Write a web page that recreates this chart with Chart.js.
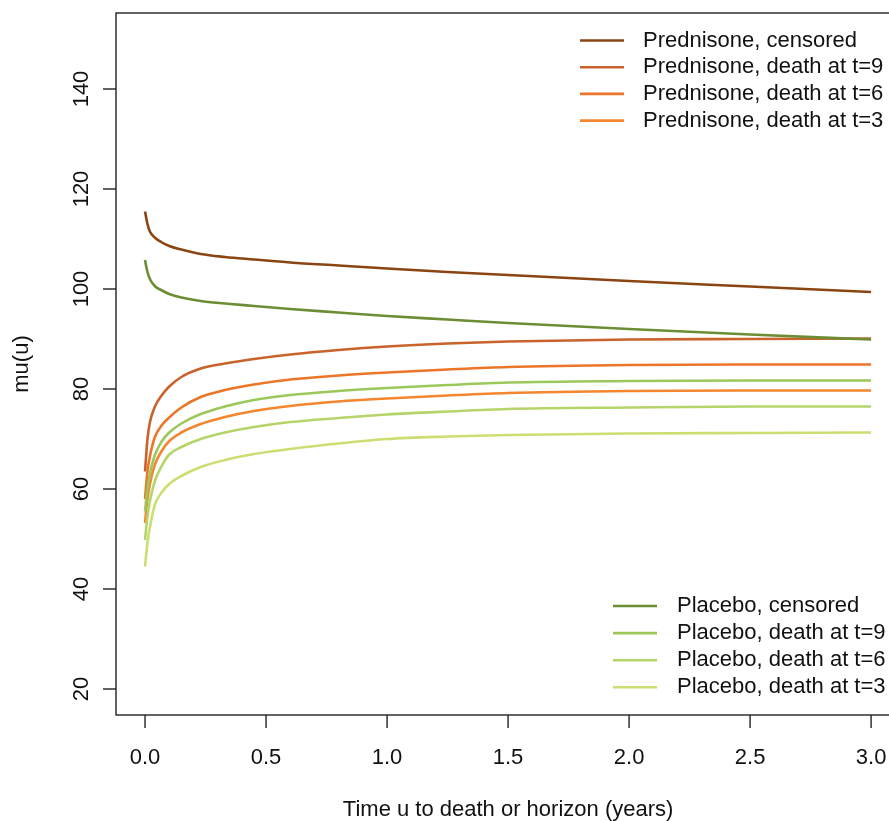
<!DOCTYPE html>
<html>
<head>
<meta charset="utf-8">
<script src="https://cdn.jsdelivr.net/npm/chart.js@4/dist/chart.umd.min.js"></script>
<style>
  html, body { margin: 0; padding: 0; background: #fff; }
  canvas { display: block; }
</style>
</head>
<body>
<canvas id="grafico" width="889" height="821"></canvas>
<script>
// Tiempo u (años) donde se leyeron los valores
const U = [0, 0.005, 0.01, 0.02, 0.04, 0.07, 0.1, 0.15, 0.23, 0.33, 0.45, 0.6, 0.8, 1.0, 1.25, 1.5, 2.0, 2.5, 3.0];

// Prednisone
const PRED_CENS = [115.5, 114.2, 113.0, 111.5, 110.3, 109.3, 108.6, 107.9, 107.0, 106.4, 105.9, 105.3, 104.7, 104.1, 103.4, 102.8, 101.6, 100.5, 99.4];
const PRED_T9 = [63.5, 67.0, 70.0, 73.3, 76.4, 78.8, 80.5, 82.4, 84.1, 85.1, 86.0, 86.9, 87.8, 88.5, 89.1, 89.5, 89.9, 90.0, 90.1];
const PRED_T6 = [58.0, 61.0, 63.5, 66.5, 70.3, 72.8, 74.3, 76.3, 78.4, 79.8, 80.9, 81.9, 82.7, 83.3, 83.9, 84.4, 84.8, 84.9, 84.9];
const PRED_T3 = [53.2, 55.8, 58.0, 61.0, 64.8, 67.7, 69.6, 71.3, 73.0, 74.4, 75.6, 76.6, 77.5, 78.1, 78.7, 79.2, 79.6, 79.7, 79.7];

// Placebo
const PLAC_CENS = [105.8, 104.5, 103.4, 102.0, 100.6, 99.7, 99.0, 98.3, 97.6, 97.1, 96.6, 96.0, 95.3, 94.6, 93.9, 93.2, 92.0, 90.9, 89.9];
const PLAC_T9 = [55.5, 58.0, 60.2, 63.0, 66.7, 69.6, 71.3, 73.1, 75.0, 76.5, 77.8, 78.8, 79.6, 80.2, 80.8, 81.3, 81.6, 81.7, 81.7];
const PLAC_T6 = [49.8, 52.3, 54.5, 57.5, 61.5, 64.7, 66.9, 68.4, 70.0, 71.3, 72.4, 73.4, 74.2, 74.9, 75.5, 76.0, 76.3, 76.5, 76.5];
const PLAC_T3 = [44.5, 47.0, 49.3, 52.3, 56.8, 59.4, 61.0, 62.6, 64.4, 65.8, 67.0, 68.0, 69.1, 70.0, 70.5, 70.8, 71.1, 71.2, 71.3];

// Marcas de los ejes
const X_TICKS = [0, 0.5, 1.0, 1.5, 2.0, 2.5, 3.0];
const Y_TICKS = [20, 40, 60, 80, 100, 120, 140];

// Etiquetas de las series
const PRED_LABELS = ['Prednisone, censored', 'Prednisone, death at t=9', 'Prednisone, death at t=6', 'Prednisone, death at t=3'];
const PLAC_LABELS = ['Placebo, censored', 'Placebo, death at t=9', 'Placebo, death at t=6', 'Placebo, death at t=3'];

const PRED_COLORS = ['#8b4513', '#c9632b', '#ec7628', '#f4862f'];
const PLAC_COLORS = ['#6b8e35', '#9bc85a', '#b5d56a', '#cadf72'];

const FUENTE = '"Liberation Sans", Arial, Helvetica, sans-serif';

// Se arma cada serie como pares {x, y}
const pares = (valores) => U.map((u, i) => ({ x: u, y: valores[i] }));

const serie = (label, valores, color, orden) => ({
    label: label,
    data: pares(valores),
    borderColor: color,
    backgroundColor: color,
    borderWidth: 2.6,
    pointRadius: 0,
    fill: false,
    cubicInterpolationMode: 'monotone',
    order: orden
});

// Plugin para dibujar caja, ejes, títulos y leyendas al estilo de R
const ejesR = {
    id: 'ejesR',
    afterDraw(chart) {
        const { ctx, chartArea: ca, scales: { x, y } } = chart;
        ctx.save();
        ctx.strokeStyle = '#222';
        ctx.lineWidth = 1.4;
        // caja
        const derecha = x.getPixelForValue(3.12);
        ctx.strokeRect(ca.left, ca.top, derecha - ca.left, ca.bottom - ca.top);

        ctx.fillStyle = '#111';
        ctx.font = '22px ' + FUENTE;

        // eje x
        X_TICKS.forEach(v => {
            const px = x.getPixelForValue(v);
            ctx.beginPath();
            ctx.moveTo(px, ca.bottom);
            ctx.lineTo(px, ca.bottom + 13);
            ctx.stroke();
            ctx.textAlign = 'center';
            ctx.textBaseline = 'middle';
            ctx.fillText(v.toFixed(1), px, 758);
        });

        // eje y
        Y_TICKS.forEach(v => {
            const py = y.getPixelForValue(v);
            ctx.beginPath();
            ctx.moveTo(ca.left, py);
            ctx.lineTo(ca.left - 13, py);
            ctx.stroke();
            ctx.save();
            ctx.translate(82, py);
            ctx.rotate(-Math.PI / 2);
            ctx.textAlign = 'center';
            ctx.textBaseline = 'middle';
            ctx.fillText(String(v), 0, 0);
            ctx.restore();
        });

        // títulos de ejes
        ctx.textAlign = 'center';
        ctx.textBaseline = 'middle';
        ctx.fillText('Time u to death or horizon (years)', (ca.left + derecha) / 2, 810);
        ctx.save();
        ctx.translate(22, (ca.top + ca.bottom) / 2);
        ctx.rotate(-Math.PI / 2);
        ctx.fillText('mu(u)', 0, 0);
        ctx.restore();

        // leyendas
        const leyenda = (labels, colors, x0, x1, xt, y0, paso) => {
            labels.forEach((txt, i) => {
                const yy = y0 + i * paso;
                ctx.strokeStyle = colors[i];
                ctx.lineWidth = 2.6;
                ctx.beginPath();
                ctx.moveTo(x0, yy);
                ctx.lineTo(x1, yy);
                ctx.stroke();
                ctx.textAlign = 'left';
                ctx.fillStyle = '#111';
                ctx.fillText(txt, xt, yy);
            });
        };
        leyenda(PRED_LABELS, PRED_COLORS, 580, 624, 643, 40.5, 26.7);
        leyenda(PLAC_LABELS, PLAC_COLORS, 613, 657, 677, 606, 27.1);

        ctx.restore();
    }
};

new Chart(document.getElementById('grafico'), {
    type: 'line',
    data: {
        datasets: [
            serie(PRED_LABELS[0], PRED_CENS, PRED_COLORS[0], 1),
            serie(PRED_LABELS[1], PRED_T9, PRED_COLORS[1], 1),
            serie(PRED_LABELS[2], PRED_T6, PRED_COLORS[2], 1),
            serie(PRED_LABELS[3], PRED_T3, PRED_COLORS[3], 1),
            serie(PLAC_LABELS[0], PLAC_CENS, PLAC_COLORS[0], 0),
            serie(PLAC_LABELS[1], PLAC_T9, PLAC_COLORS[1], 0),
            serie(PLAC_LABELS[2], PLAC_T6, PLAC_COLORS[2], 0),
            serie(PLAC_LABELS[3], PLAC_T3, PLAC_COLORS[3], 0)
        ]
    },
    options: {
        responsive: false,
        animation: false,
        layout: { padding: { left: 116, top: 13, right: 0, bottom: 106 } },
        plugins: {
            legend: { display: false },
            tooltip: { enabled: false }
        },
        scales: {
            x: { type: 'linear', min: -0.12, max: 3.074, display: false },
            y: { type: 'linear', min: 14.8, max: 155.2, display: false }
        }
    },
    plugins: [ejesR]
});
</script>
</body>
</html>
